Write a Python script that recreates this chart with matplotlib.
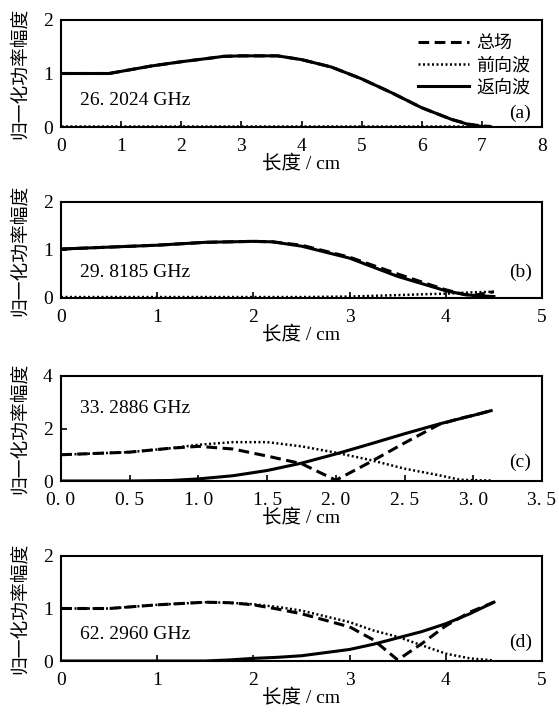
import numpy as np
import matplotlib.pyplot as plt

plt.rcParams['font.family'] = ['Liberation Serif', 'Noto Sans CJK SC']
plt.rcParams['axes.unicode_minus'] = False

# ---- data ----
# (a) 26.2024 GHz
xa = [0, 0.5, 0.8, 1.0, 1.5, 2.0, 2.5, 2.7, 3.0, 3.6, 4.0, 4.5, 5.0, 5.5, 6.0, 6.5, 6.8, 7.0, 7.15]
back_a = [1.0, 1.0, 1.0, 1.04, 1.14, 1.22, 1.29, 1.32, 1.33, 1.33, 1.26, 1.12, 0.9, 0.64, 0.36, 0.14, 0.04, 0.01, 0.0]
total_a = [1.0, 1.0, 1.0, 1.04, 1.14, 1.22, 1.29, 1.32, 1.33, 1.33, 1.26, 1.12, 0.9, 0.64, 0.36, 0.14, 0.05, 0.02, 0.01]
fwd_a = [0.01] * len(xa)

# (b) 29.8185 GHz
xb = [0, 0.5, 1.0, 1.5, 2.0, 2.2, 2.5, 3.0, 3.5, 3.8, 4.0, 4.2, 4.3, 4.5]
back_b = [1.02, 1.06, 1.1, 1.16, 1.18, 1.17, 1.08, 0.83, 0.45, 0.27, 0.15, 0.07, 0.05, 0.03]
total_b = [1.02, 1.06, 1.1, 1.16, 1.18, 1.17, 1.1, 0.85, 0.5, 0.3, 0.17, 0.07, 0.06, 0.13]
fwd_b = [0.02, 0.02, 0.02, 0.02, 0.02, 0.02, 0.02, 0.03, 0.06, 0.08, 0.09, 0.11, 0.12, 0.13]

# (c) 33.2886 GHz
xc = [0, 0.5, 0.8, 1.0, 1.25, 1.5, 1.75, 2.0, 2.25, 2.5, 2.75, 2.9, 3.0, 3.13]
total_c = [1.0, 1.1, 1.25, 1.32, 1.22, 0.95, 0.66, 0.03, 0.72, 1.45, 2.15, 2.38, 2.5, 2.68]
fwd_c = [1.0, 1.1, 1.25, 1.38, 1.48, 1.48, 1.32, 1.08, 0.8, 0.47, 0.22, 0.05, 0.03, 0.02]
back_c = [0.0, 0.0, 0.02, 0.08, 0.2, 0.4, 0.68, 1.03, 1.41, 1.8, 2.17, 2.37, 2.5, 2.68]

# (d) 62.2960 GHz
xd = [0, 0.5, 1.0, 1.5, 1.75, 2.0, 2.25, 2.5, 3.0, 3.25, 3.5, 3.75, 4.0, 4.25, 4.5]
total_d = [1.0, 1.0, 1.07, 1.12, 1.11, 1.07, 0.99, 0.9, 0.65, 0.4, 0.02, 0.33, 0.67, 0.93, 1.12]
fwd_d = [1.0, 1.0, 1.07, 1.12, 1.11, 1.08, 1.03, 0.96, 0.74, 0.58, 0.46, 0.3, 0.14, 0.05, 0.01]
back_d = [0.0, 0.0, 0.0, 0.0, 0.02, 0.05, 0.07, 0.1, 0.22, 0.32, 0.44, 0.56, 0.71, 0.9, 1.12]

freqs = ['26. 2024 GHz', '29. 8185 GHz', '33. 2886 GHz', '62. 2960 GHz']
tags = ['(a)', '(b)', '(c)', '(d)']
xlims = [8, 5, 3.5, 5]
ylims = [2, 2, 4, 2]
xticks = [np.arange(0, 9, 1), np.arange(0, 6, 1), np.arange(0, 3.51, 0.5), np.arange(0, 6, 1)]
yticks = [[0, 1, 2], [0, 1, 2], [0, 2, 4], [0, 1, 2]]
legend_labels = ['总场', '前向波', '返向波']

panels = [(xa, total_a, fwd_a, back_a), (xb, total_b, fwd_b, back_b),
          (xc, total_c, fwd_c, back_c), (xd, total_d, fwd_d, back_d)]

W, H = 559, 716
# axes boxes in pixels: top, bottom
boxes = [(20, 127), (202, 298), (376, 481), (556, 661)]
left, right = 61, 542

fig = plt.figure(figsize=(W / 100, H / 100), dpi=100)

for i, ((x, tot, fwd, back), (top, bot)) in enumerate(zip(panels, boxes)):
    ax = fig.add_axes([left / W, (H - bot) / H, (right - left) / W, (bot - top) / H])
    ax.plot(x, tot, color='black', lw=2.2, ls=(0, (3.5, 1.8)), label=legend_labels[0])
    ax.plot(x, fwd, color='black', lw=1.8, ls=(0, (0.8, 1.0)), label=legend_labels[1])
    ax.plot(x, back, color='black', lw=2.2, ls='-', label=legend_labels[2])
    ax.set_xlim(0, xlims[i])
    ax.set_ylim(0, ylims[i])
    ax.set_xticks(xticks[i])
    ax.set_yticks(yticks[i])
    if i == 2:
        ax.set_xticklabels([('%.1f' % v).replace('.', '. ') for v in xticks[i]])
    ax.tick_params(direction='in', length=4, width=1.2, labelsize=14)
    ax.tick_params(axis='x', pad=8)
    ax.tick_params(axis='y', pad=6)
    for s in ax.spines.values():
        s.set_linewidth(1.5)
    ax.set_xlabel('长度 / cm', fontsize=14, labelpad=0)
    ax.set_ylabel('归一化功率幅度', fontsize=13.5, labelpad=10)
    fy = [0.25, 0.27, 0.695, 0.257][i]
    ax.text(0.04, fy, freqs[i], transform=ax.transAxes, fontsize=14, va='center')
    ty = [0.13, 0.27, 0.18, 0.18][i]
    ax.text(0.955, ty, tags[i], transform=ax.transAxes, fontsize=14, va='center', ha='center')
    if i == 0:
        ax.legend(loc='upper right', frameon=False, fontsize=13, handlelength=2.8,
                  handletextpad=0.4, labelspacing=0.3, bbox_to_anchor=(0.975, 0.86),
                  borderaxespad=0, borderpad=0)

fig.savefig('out.png', dpi=100)
